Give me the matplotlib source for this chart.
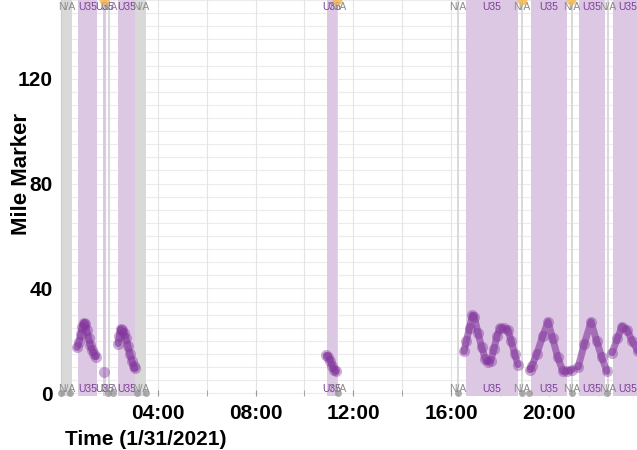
import matplotlib.pyplot as plt
from matplotlib.ticker import MultipleLocator, FuncFormatter

plt.rcParams['font.family'] = ['Liberation Sans', 'DejaVu Sans']

# zone spans (hours after midnight 1/31/2021)
span_start = [0.04, 0.74, 1.76, 1.96, 2.37, 3.07, 10.92, 11.33, 16.24, 16.60,
              18.85, 19.26, 20.90, 21.23, 22.37, 22.60]
span_end = [0.49, 1.51, 1.88, 2.04, 3.07, 3.52, 11.33, 11.37, 16.32, 18.73,
            18.94, 20.73, 20.98, 22.29, 22.45, 23.80]
span_label = ['N/A', 'U35', 'U35', 'N/A', 'U35', 'N/A', 'U35', 'N/A', 'N/A', 'U35',
              'N/A', 'U35', 'N/A', 'U35', 'N/A', 'U35']

# vehicle trajectory pieces: (hours, mile marker)
seg_hours = [
    [0.70, 0.78, 0.85, 0.92, 0.98, 1.04, 1.10, 1.17, 1.24, 1.32, 1.40, 1.48],
    [1.80],
    [2.38, 2.43, 2.48, 2.55, 2.62, 2.70, 2.78, 2.86, 2.94, 3.01, 3.06],
    [10.90, 10.98, 11.06, 11.14, 11.22, 11.28],
    [16.52, 16.62, 16.75, 16.87, 16.95, 17.10, 17.25, 17.40, 17.50, 17.62, 17.75,
     17.88, 18.00, 18.15, 18.32, 18.45, 18.60, 18.73],
    [19.22, 19.30, 19.50, 19.75, 19.96, 20.15, 20.35, 20.57, 20.75, 20.94],
    [21.19, 21.45, 21.72, 21.95, 22.15, 22.37],
    [22.58, 22.80, 22.99, 23.19, 23.40, 23.65],
]
seg_miles = [
    [17.5, 19.5, 22.5, 25.5, 27.0, 26.5, 24.0, 21.0, 18.5, 16.5, 15.0, 14.0],
    [8.3],
    [19.0, 22.0, 24.5, 24.0, 23.0, 21.0, 18.0, 15.0, 12.5, 10.5, 9.5],
    [14.5, 14.0, 12.5, 10.5, 9.0, 8.4],
    [16.0, 20.0, 25.0, 29.8, 29.0, 23.0, 17.5, 13.0, 12.0, 12.5, 17.0,
     22.0, 25.0, 24.8, 24.3, 20.0, 15.0, 11.0],
    [9.0, 10.5, 15.0, 22.0, 27.3, 21.0, 14.0, 8.4, 8.5, 9.0],
    [10.0, 19.0, 27.3, 20.0, 14.0, 8.4],
    [15.5, 21.0, 25.5, 24.3, 20.0, 16.0],
]

# event markers
top_event_hours = [1.80, 11.35, 18.90, 20.90]
bottom_event_hours = [0.05, 0.40, 1.96, 2.15, 3.15, 3.50, 11.37, 16.28, 18.90,
                      19.18, 20.94, 22.37]

zone_colors = {'U35': '#dcc8e2', 'N/A': '#d9d9d9'}
text_colors = {'U35': '#7d3c98', 'N/A': '#8a8a8a'}

fig = plt.figure(figsize=(6.37, 4.5), dpi=100)
ax = fig.add_axes([0.096, 0.12, 0.904, 0.88])

for s, e, lab in zip(span_start, span_end, span_label):
    ax.axvspan(s, e, color=zone_colors[lab], lw=0, zorder=1)
    mid = (s + e) / 2
    for yy in (0.982, 0.018):
        ax.text(mid, yy, lab, transform=ax.get_xaxis_transform(), ha='center',
                va='center', fontsize=7.5, color=text_colors[lab], zorder=4)

for h, m in zip(seg_hours, seg_miles):
    ax.plot(h, m, color='#80319a', lw=5, alpha=0.6, solid_capstyle='round', zorder=3)
    ax.plot(h, m, 'o', color='#80319a', ms=8, alpha=0.4, mec='none', zorder=3)

ax.plot(bottom_event_hours, [0] * len(bottom_event_hours), 'o', color='#8c8c8c',
        ms=5, alpha=0.7, mec='none', zorder=5, clip_on=False)
ax.plot(top_event_hours, [150] * len(top_event_hours), 'o', color='#f2b84b',
        ms=7, alpha=0.8, mec='none', zorder=5, clip_on=False)

ax.set_xlim(0.05, 23.6)
ax.set_ylim(-1, 150)
ax.xaxis.set_major_locator(MultipleLocator(4))
ax.xaxis.set_minor_locator(MultipleLocator(2))
ax.xaxis.set_major_formatter(FuncFormatter(lambda v, p: '%02d:00' % int(v)))
ax.yaxis.set_major_locator(MultipleLocator(40))
ax.yaxis.set_minor_locator(MultipleLocator(20))

ax.grid(which='major', axis='x', color='#e4e4e4', lw=0.8, zorder=0)
ax.grid(which='minor', axis='x', color='#e4e4e4', lw=0.8, zorder=0)
for v in range(0, 151, 5):
    ax.axhline(v, color='#ececec', lw=0.8, zorder=0)
ax.set_axisbelow(True)

ax.tick_params(which='both', direction='in', length=4, color='#999999')
ax.tick_params(axis='both', labelsize=15, pad=6)
for lab in ax.get_xticklabels() + ax.get_yticklabels():
    lab.set_fontweight('bold')

for sp in ['top', 'right', 'bottom']:
    ax.spines[sp].set_visible(False)
ax.spines['left'].set_color('#cccccc')

ax.set_xlabel('Time (1/31/2021)', fontsize=15, fontweight='bold', loc='left')
ax.xaxis.set_label_coords(0.006, -0.085)
ax.xaxis.label.set_ha('left')
ax.set_ylabel('Mile Marker', fontsize=16, fontweight='bold')
ax.yaxis.set_label_coords(-0.05, 0.56)

fig.savefig('out.png', dpi=100)
